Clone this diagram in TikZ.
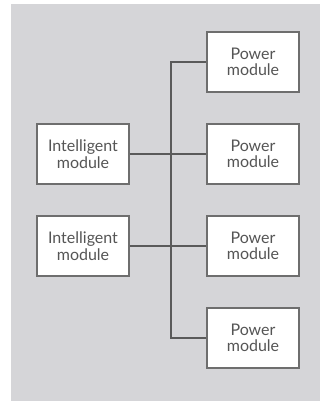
\documentclass[tikz,border=0pt]{standalone}
\usepackage{fontspec}
\setmainfont{Lato}
\definecolor{bgc}{HTML}{D5D5D8}
\definecolor{boxc}{HTML}{6E6E6E}
\definecolor{linec}{HTML}{5A5A5A}
\definecolor{txtc}{HTML}{555555}
\begin{document}
\begin{tikzpicture}[x=1pt,y=-1pt,
  modbox/.style={draw=boxc,fill=white,line width=1.6pt,minimum width=92pt,minimum height=60pt,
    inner sep=0pt,align=center,text=txtc,font=\fontsize{16}{16.5}\selectfont},
  bus/.style={draw=linec,line width=2pt}]
\useasboundingbox (0,0) rectangle (320,403);
\fill[bgc] (11,4) rectangle (320,401);
\node[modbox] (p1) at (253,62) {Power\\module};
\node[modbox] (p2) at (253,154) {Power\\module};
\node[modbox] (p3) at (253,246) {Power\\module};
\node[modbox] (p4) at (253,338) {Power\\module};
\node[modbox] (i1) at (83,154) {Intelligent\\module};
\node[modbox] (i2) at (83,246) {Intelligent\\module};
\coordinate (bt) at (171,62);
\coordinate (bb) at (171,338);
\draw[bus] (p1.west) -- (bt) -- (bb) -- (p4.west);
\draw[bus] (i1.east) -- (p2.west);
\draw[bus] (i2.east) -- (p3.west);
\end{tikzpicture}
\end{document}
